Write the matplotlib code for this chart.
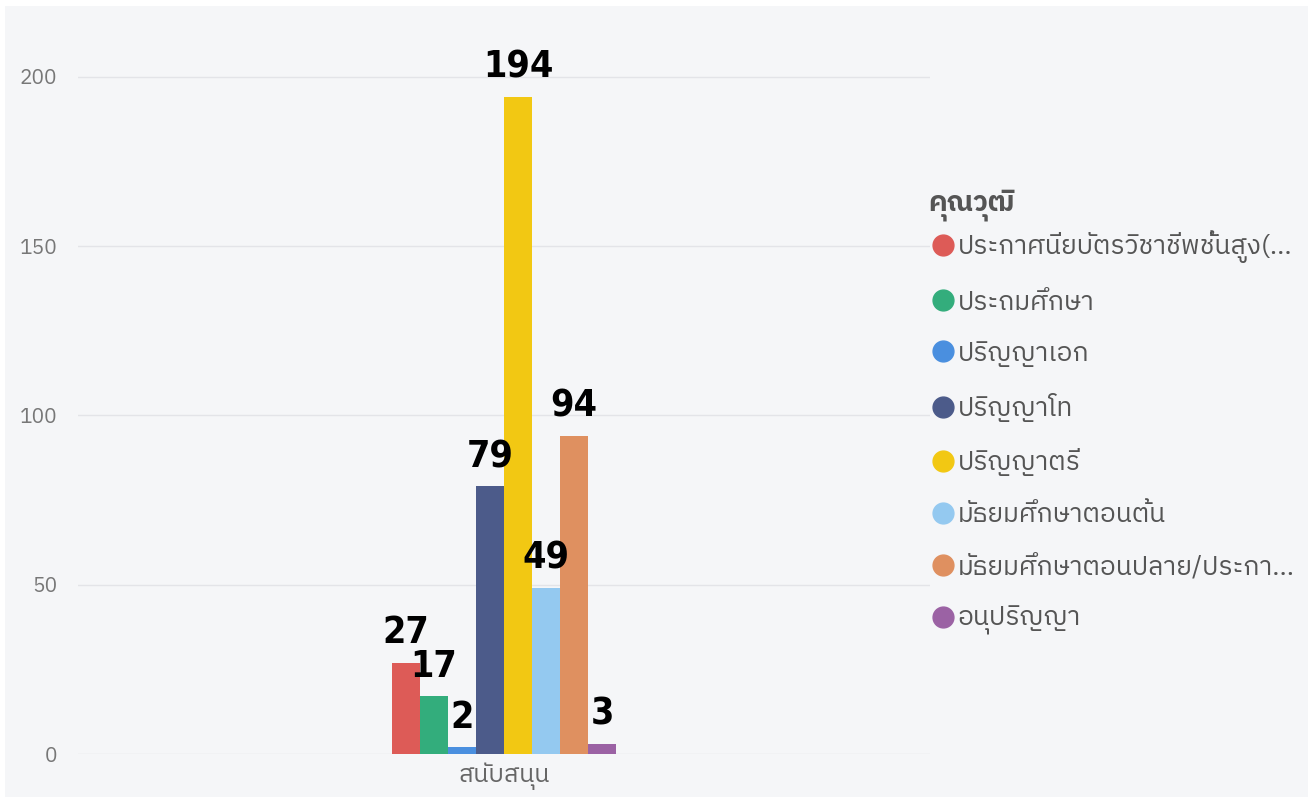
import numpy as np
import matplotlib.pyplot as plt
from matplotlib.lines import Line2D
from matplotlib import font_manager

category = "สนับสนุน"
series = ["ประกาศนียบัตรวิชาชีพชั้นสูง(...", "ประถมศึกษา", "ปริญญาเอก", "ปริญญาโท",
          "ปริญญาตรี", "มัธยมศึกษาตอนต้น", "มัธยมศึกษาตอนปลาย/ประกา...", "อนุปริญญา"]
values = [27, 17, 2, 79, 194, 49, 94, 3]
colors = ["#dd5b57", "#33ad7c", "#4a8fdf", "#4c5b8a", "#f2c813", "#94c9f0", "#df9060", "#9b62a4"]
legend_title = "คุณวุฒิ"
yticks = [0, 50, 100, 150, 200]

names = sorted({f.name for f in font_manager.fontManager.ttflist})
thai = [n for n in names if "Thai" in n]
plt.rcParams["font.family"] = thai + ["Noto Sans", "DejaVu Sans"]

W, H = 1313, 797
fig = plt.figure(figsize=(W / 100, H / 100), dpi=100)
fig.patch.set_facecolor("white")
bg = fig.add_axes([5 / W, 0, 1 - 10 / W, 1 - 6 / H])
bg.set_facecolor("#f5f6f8")
bg.set_xticks([]); bg.set_yticks([])
for s in bg.spines.values():
    s.set_visible(False)

ax = fig.add_axes([78 / W, (H - 754) / H, (930 - 78) / W, (754 - 9) / H])
ax.set_facecolor("none")
ax.set_ylim(0, 220)
ax.set_xlim(-0.5, 0.5)

bw = 28 / 852
n = len(values)
xs = (np.arange(n) - (n - 1) / 2) * bw
ax.bar(xs, values, width=bw, color=colors, zorder=3)
for x, v in zip(xs, values):
    ax.annotate(str(v), (x, v), xytext=(0, 8), textcoords="offset points",
                ha="center", va="bottom", fontsize=27, fontweight="bold",
                fontstretch="condensed", color="black",
                family=["DejaVu Sans"], zorder=4)

ax.set_yticks(yticks)
ax.set_xticks([0])
ax.set_xticklabels([category], fontsize=18, color="#666666")
ax.tick_params(axis="y", length=0, pad=15, labelsize=15, labelcolor="#777777")
ax.tick_params(axis="x", length=0, pad=6)
ax.grid(axis="y", color="#e3e4e8", lw=1, zorder=0)
for s in ax.spines.values():
    s.set_visible(False)

handles = [Line2D([0], [0], marker="o", ls="none", markersize=15, markerfacecolor=c,
                  markeredgecolor=c) for c in colors]
leg = fig.legend(handles, series, loc="upper left",
                 bbox_to_anchor=(918 / W, 1 - 220 / H), frameon=False,
                 fontsize=19, labelcolor="#555555", handletextpad=0.0,
                 handlelength=1.1, labelspacing=0.99, borderaxespad=0)
fig.text(928 / W, 1 - 205 / H, legend_title, ha="left", va="center",
         fontsize=20, fontweight="bold", color="#555555")

fig.savefig("out.png", dpi=100, facecolor=fig.get_facecolor())
